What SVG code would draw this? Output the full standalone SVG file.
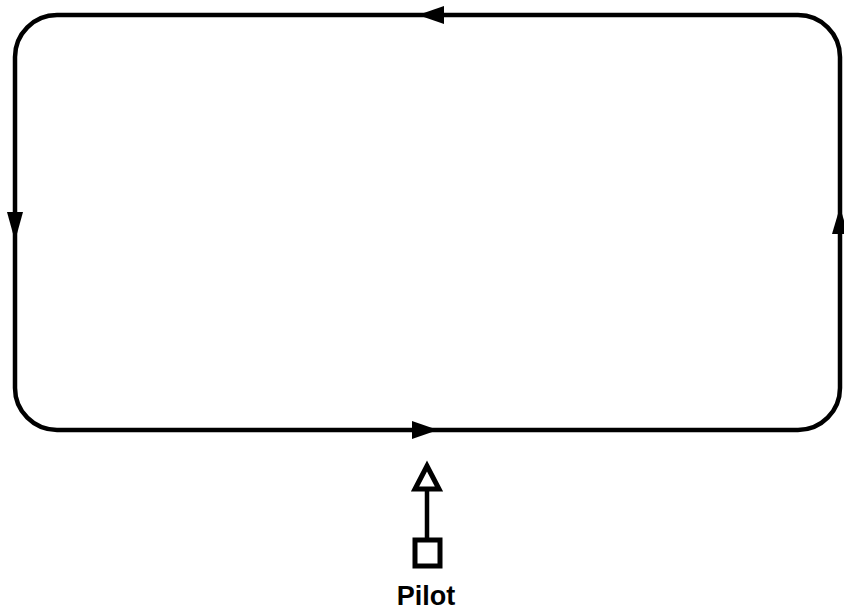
<svg xmlns="http://www.w3.org/2000/svg" width="844" height="612" viewBox="0 0 844 612">
<style>
.line{fill:none;stroke:#000;stroke-width:4.5}
.head{fill:#000;stroke:none}
.label{font-family:"Liberation Sans",Arial,sans-serif;font-weight:bold;font-size:27px;fill:#000}
</style>
<rect width="844" height="612" fill="#fff"/>
<g id="connectors">
<rect class="line" x="15" y="15" width="825" height="415" rx="42" ry="42"/>
<polygon class="head" points="418,15 444,6 444,24"/>
<polygon class="head" points="15,241 7,212 23,212"/>
<polygon class="head" points="438,430 412,421 412,439"/>
<polygon class="head" points="840,207 832,234 848,234"/>
<line class="line" x1="427" y1="489" x2="427" y2="540"/>
<polygon points="427,466 415,489 439,489" fill="#fff" stroke="#000" stroke-width="5" stroke-linejoin="miter"/>
</g>
<g id="pilot">
<rect x="415" y="540" width="25" height="26" fill="#fff" stroke="#000" stroke-width="5"/>
<text class="label" x="426" y="605" text-anchor="middle">Pilot</text>
</g>
</svg>
